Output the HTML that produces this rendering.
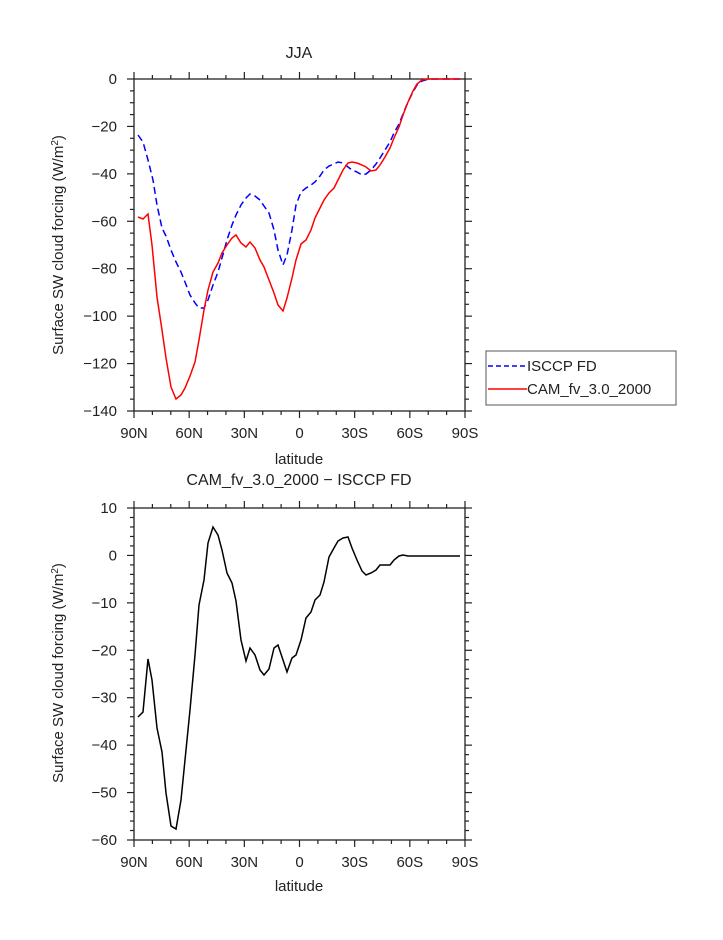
<!DOCTYPE html>
<html><head><meta charset="utf-8"><style>
html,body{margin:0;padding:0;background:#fff;}
svg text{font-family:"Liberation Sans",sans-serif;fill:#222;}
</style></head><body>
<svg id="s" width="723" height="935" xmlns="http://www.w3.org/2000/svg">
<text x="299" y="58" font-size="16" text-anchor="middle">JJA</text>
<text x="299" y="485" font-size="16" text-anchor="middle">CAM_fv_3.0_2000 − ISCCP FD</text>
<text x="299" y="464" font-size="15" text-anchor="middle">latitude</text>
<text x="299" y="891" font-size="15" text-anchor="middle">latitude</text>
<text transform="translate(63,245) rotate(-90)" font-size="15" text-anchor="middle">Surface SW cloud forcing (W/m<tspan font-size="10" dy="-5">2</tspan><tspan dy="5">)</tspan></text>
<text transform="translate(63,673) rotate(-90)" font-size="15" text-anchor="middle">Surface SW cloud forcing (W/m<tspan font-size="10" dy="-5">2</tspan><tspan dy="5">)</tspan></text>
<g id="ax"></g>
<polyline fill="none" stroke="#0000ff" stroke-width="1.5" stroke-dasharray="7,4" points="138,135 143,142 148,160 153,180 157,205 162,228 166,236 171,250 176,262 181,272 185,282 190,295 195,303 199,308 204,308 208,300 213,285 218,272 222,258 227,240 232,225 236,215 241,205 246,198 250,194 255,196 260,200 264,206 269,213 274,230 278,250 283,265 287,255 292,230 296,205 301,192 306,188 311,185 315,182 320,176 324,170 329,166 334,164 338,162 343,163 348,167 352,170 357,172 362,175 366,174 371,170 376,164 380,158 385,150 390,142 394,133 399,124 403,114 408,102 413,92 417,85 422,81 427,79.5 432,79 460,79"/>
<polyline fill="none" stroke="#ff0000" stroke-width="1.5" points="138,217 143,219 148,214 152,245 157,297 162,330 166,358 171,387 176,399 181,395 185,388 190,376 195,362 199,340 204,310 208,290 213,272 218,263 222,253 227,245 232,238 236,235 241,243 246,247 250,242 255,248 260,260 264,267 269,280 274,293 278,305 283,311 287,298 292,278 296,260 301,244 306,240 311,230 315,218 320,208 324,200 329,193 334,188 338,180 343,170 348,163 352,162 357,163 362,165 366,167 371,171 376,170 380,165 385,157 390,148 394,138 399,127 403,115 408,102 413,91 417,84 422,80 427,79 460,79"/>
<polyline fill="none" stroke="#000" stroke-width="1.5" points="138,717 143,712 148,659 152,680 157,728 162,752 166,793 171,826 176,829 181,800 185,760 190,710 195,655 199,605 204,580 208,543 213,527 218,535 222,550 227,573 232,583 236,601 241,640 246,661 250,648 255,655 260,670 264,675 269,669 274,648 278,645 283,660 287,672 292,658 296,655 301,640 306,618 311,612 315,600 320,595 324,582 329,557 334,548 338,541 343,538 348,537 352,548 357,560 362,571 366,575 371,573 376,570 380,565 385,565 390,565 394,560 399,556 403,555 408,556 460,556"/>
<rect x="486" y="351" width="190" height="54" fill="none" stroke="#555" stroke-width="1"/>
<line x1="488" y1="366" x2="527" y2="366" stroke="#0000ff" stroke-width="1.5" stroke-dasharray="5,3"/>
<line x1="488" y1="389" x2="527" y2="389" stroke="#ff0000" stroke-width="1.5"/>
<text x="527" y="371" font-size="15">ISCCP FD</text>
<text x="527" y="394" font-size="15">CAM_fv_3.0_2000</text>
</svg>
<script>
var g=document.getElementById('ax'),NS='http://www.w3.org/2000/svg';
function L(x1,y1,x2,y2){var l=document.createElementNS(NS,'line');l.setAttribute('x1',x1);l.setAttribute('y1',y1);l.setAttribute('x2',x2);l.setAttribute('y2',y2);l.setAttribute('stroke','#222');l.setAttribute('stroke-width','1.2');g.appendChild(l);}
function T(x,y,s,a){var t=document.createElementNS(NS,'text');t.setAttribute('x',x);t.setAttribute('y',y);t.setAttribute('font-size','15');t.setAttribute('text-anchor',a);t.textContent=s;g.appendChild(t);}
var X0=134,X1=465,xl=['90N','60N','30N','0','30S','60S','90S'];
function panel(top,bot,vmax,vmin,major,minor){
 var r=document.createElementNS(NS,'rect');r.setAttribute('x',X0);r.setAttribute('y',top);r.setAttribute('width',X1-X0);r.setAttribute('height',bot-top);r.setAttribute('fill','none');r.setAttribute('stroke','#222');r.setAttribute('stroke-width','1.3');g.appendChild(r);
 for(var i=0;i<=18;i++){var x=X0+i*(X1-X0)/18,m=i%3==0,len=m?7:4;L(x,top,x,top-len);L(x,bot,x,bot+len);}
 for(var i=0;i<=6;i++)T(X0+i*(X1-X0)/6,bot+27,xl[i],'middle');
 for(var v=vmin;v<=vmax+0.01;v+=minor){var y=top+(vmax-v)*(bot-top)/(vmax-vmin),m=Math.abs(v%major)<0.01,len=m?7:4;L(X0,y,X0-len,y);L(X1,y,X1+len,y);if(m)T(117,y+5,v==0?'0':(v<0?'−'+(-v):''+v),'end');}
}
panel(79,411,0,-140,20,5);
panel(508,840,10,-60,10,2);
</script>
</body></html>
